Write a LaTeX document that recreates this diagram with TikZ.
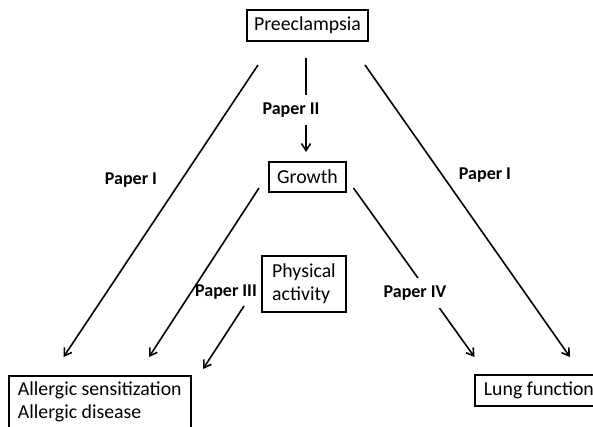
\documentclass[tikz,border=0pt]{standalone}
\usepackage{fontspec}
\setmainfont{Carlito}
\usetikzlibrary{arrows.meta}
\begin{document}
\begin{tikzpicture}[x=1pt,y=-1pt,
  box/.style={draw, line width=1.8pt, inner sep=0pt, font=\fontsize{19.8}{23}\selectfont},
  lab/.style={font=\bfseries\fontsize{18}{20}\selectfont, inner sep=0pt},
  arr/.style={line width=1.6pt, -{Straight Barb[length=7pt,width=9pt]}}]
\useasboundingbox (0,0) rectangle (593,426);
\clip (0,0) rectangle (593,426);
% boxes
\node[box, minimum width=121pt, minimum height=31pt] (pre) at (307.5,25.5) {Preeclampsia};
\node[box, minimum width=77pt, minimum height=30pt] (gro) at (307.5,177) {Growth};
\node[box, minimum width=84pt, minimum height=56pt, align=left] (phy) at (304,284) {Physical\\activity};
\node[box, anchor=north west, align=left, inner xsep=9pt, inner ysep=6pt] (all) at (8,375) {Allergic sensitization\\Allergic disease\\ \strut};
\node[box, anchor=north west, inner xsep=9pt, minimum height=31pt] (lun) at (474,374) {Lung function};
% connector end points
\coordinate (preL) at (258,65);
\coordinate (allA) at (63.5,357);
\coordinate (preR) at (365,65);
\coordinate (lunA) at (570,357);
\coordinate (preB) at (306,58);
\coordinate (groT) at (306,152);
\coordinate (groL) at (259,188);
\coordinate (allB) at (149,357);
\coordinate (groR) at (353.5,188);
\coordinate (lunB) at (474.5,357);
\coordinate (phyB) at (244,306);
\coordinate (allC) at (203,369);
% connectors
\draw[arr] (preL) -- (allA);
\draw[arr] (preR) -- (lunA);
\draw[arr] (preB) -- (groT);
\draw[arr] (groL) -- (allB);
\draw[arr] (groR) -- (lunB);
\draw[arr] (phyB) -- (allC);
% labels
\node[lab] (l1) at (131,180) {Paper I};
\node[lab] (l2) at (485,175) {Paper I};
\node[lab, fill=white, minimum height=30pt] (l3) at (291,110) {Paper II};
\node[lab] (l4) at (226,292) {Paper III};
\node[lab, fill=white, minimum height=30pt] (l5) at (415,293) {Paper IV};
\end{tikzpicture}
\end{document}
